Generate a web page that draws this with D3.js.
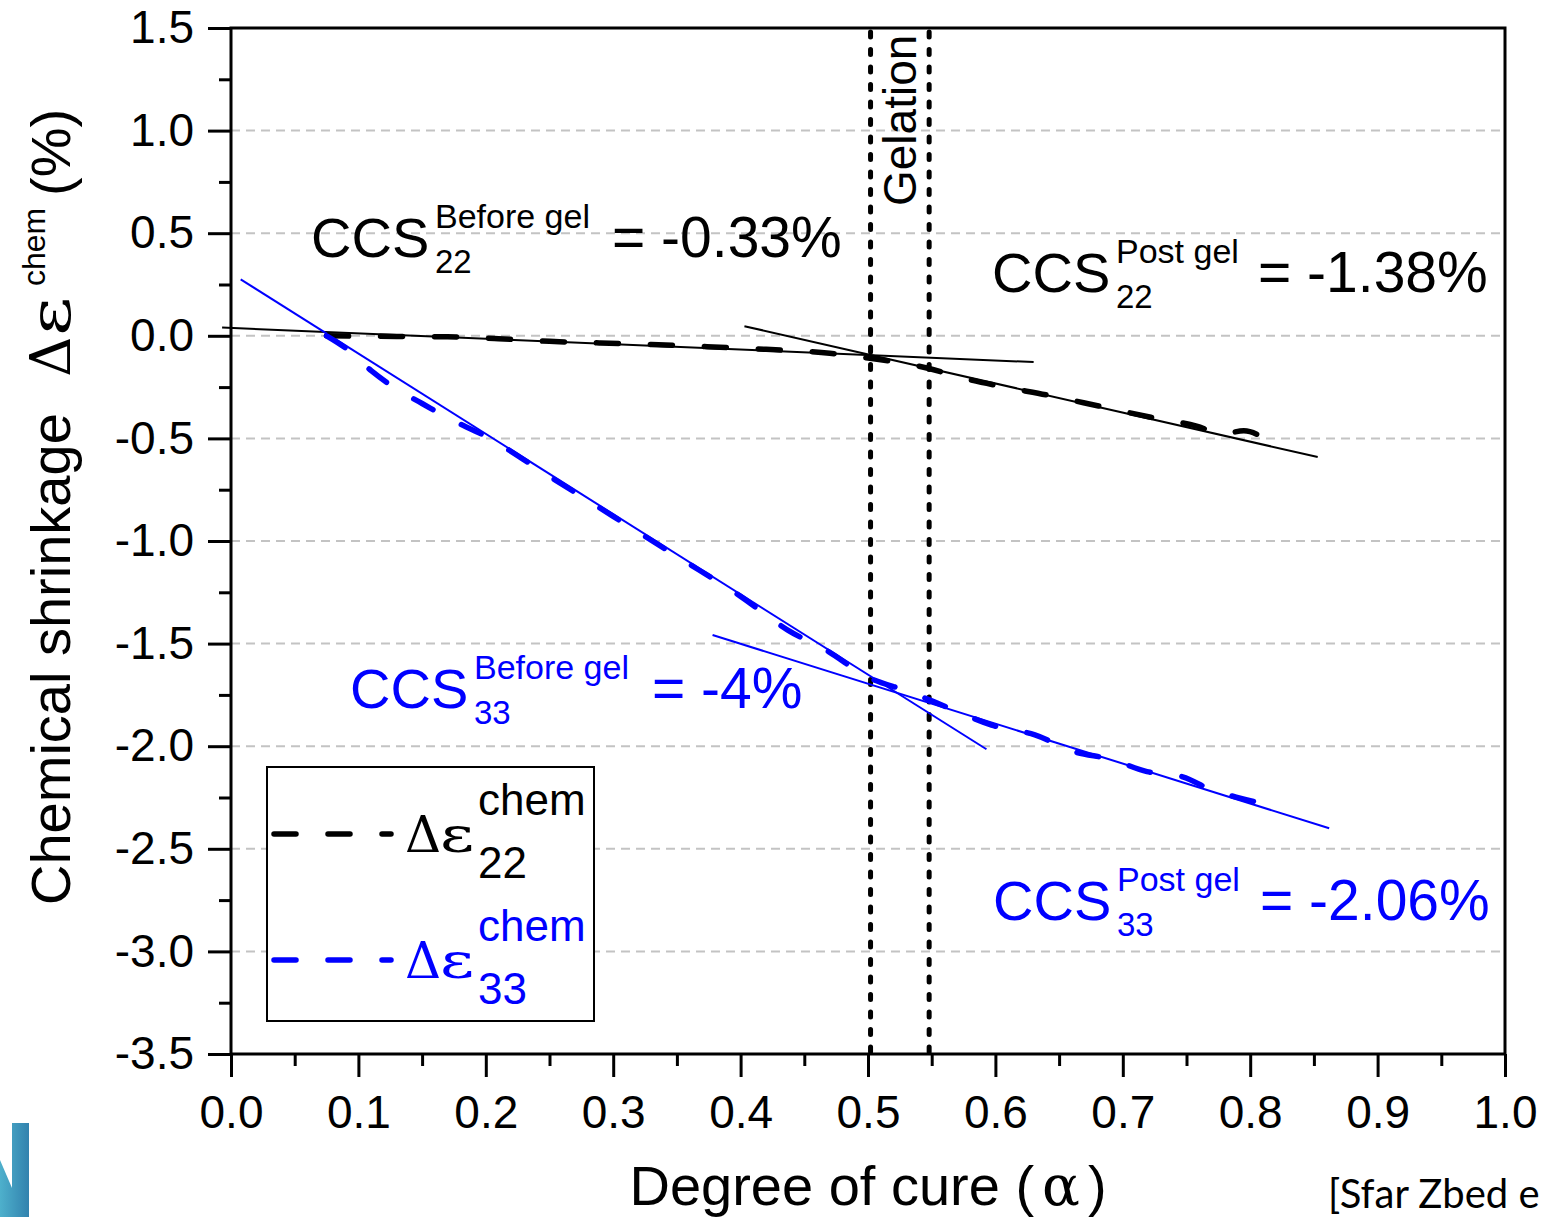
<!DOCTYPE html>
<html>
<head>
<meta charset="utf-8">
<script src="https://cdn.jsdelivr.net/npm/d3@7"></script>
<style>
  html, body { margin: 0; padding: 0; background: #fff; }
  svg { display: block; }
</style>
</head>
<body>
<svg id="chart" width="1550" height="1217"></svg>
<script>
// ---------------- data ----------------
const xTickValues = [0, 0.1, 0.2, 0.3, 0.4, 0.5, 0.6, 0.7, 0.8, 0.9, 1.0];
const yTickValues = [1.5, 1.0, 0.5, 0.0, -0.5, -1.0, -1.5, -2.0, -2.5, -3.0, -3.5];
const gridValues  = [1.0, 0.5, 0.0, -0.5, -1.0, -1.5, -2.0, -2.5, -3.0];

// Δε22 chem (black dashed)
const alpha22 = [0.075, 0.10, 0.13, 0.17, 0.21, 0.25, 0.29, 0.33, 0.37, 0.42, 0.47, 0.50, 0.547, 0.577, 0.608, 0.64, 0.681, 0.722, 0.758, 0.778, 0.795, 0.815];
const eps22   = [0.0, -0.002, -0.003, -0.005, -0.014, -0.027, -0.035, -0.042, -0.052, -0.066, -0.085, -0.108, -0.158, -0.21, -0.251, -0.288, -0.342, -0.397, -0.44, -0.478, -0.463, -0.516];

// Δε33 chem (blue dashed)
const alpha33 = [0.075, 0.09, 0.11, 0.13, 0.15, 0.17, 0.20, 0.25, 0.30, 0.35, 0.40, 0.437, 0.469, 0.499, 0.532, 0.564, 0.597, 0.631, 0.662, 0.69, 0.719, 0.747, 0.771, 0.789, 0.815];
const eps33   = [0.0, -0.06, -0.17, -0.26, -0.33, -0.40, -0.49, -0.685, -0.88, -1.075, -1.27, -1.434, -1.539, -1.661, -1.734, -1.815, -1.897, -1.945, -2.027, -2.063, -2.124, -2.149, -2.217, -2.248, -2.287];

// fitted straight lines (endpoints)
const fit22Before = [[-0.007, 0.040], [0.630, -0.128]];
const fit22Post   = [[0.403, 0.047], [0.853, -0.591]];
const fit33Before = [[0.0076, 0.275], [0.593, -2.015]];
const fit33Post   = [[0.378, -1.458], [0.862, -2.400]];

// gelation interval
const gelation = [0.502, 0.548];

// text
const xTitle = "Degree of cure (";
const yTitle = "Chemical shrinkage";
const ccsValues = ["= -0.33%", "= -1.38%", "= -4%", "= -2.06%"];
const citation = "[Sfar Zbed e";

// ---------------- drawing ----------------
const svg = d3.select("#chart");
const SANS = "'Liberation Sans', Arial, sans-serif";
const SERIF = "'DejaVu Serif', serif";
const L = 231, R = 1505, T = 28, B = 1054;

const x = d3.scaleLinear().domain([0, 1]).range([L, R]);
const y = d3.scaleLinear().domain([-3.5, 1.5]).range([B, T]);

// grid
svg.append("g").selectAll("line").data(gridValues).join("line")
  .attr("x1", L).attr("x2", R)
  .attr("y1", d => y(d)).attr("y2", d => y(d))
  .attr("stroke", "#c3c3c3").attr("stroke-width", 2)
  .attr("stroke-dasharray", "9,6");

// axes
const xMinor = d3.range(0, 21).map(i => i * 0.05).filter((d, i) => i % 2 === 1);
const yMinor = d3.range(0, 21).map(i => -3.5 + i * 0.25).filter((d, i) => i % 2 === 1);

function styleAxis(g) {
  g.select(".domain").remove();
  g.selectAll(".tick line").attr("stroke", "#000").attr("stroke-width", 3);
  g.selectAll(".tick text").attr("fill", "#000").attr("font-family", SANS).attr("font-size", 46);
}

svg.append("g").attr("transform", `translate(0,${B})`)
  .call(d3.axisBottom(x).tickValues(xMinor).tickSize(12).tickFormat(""))
  .call(styleAxis);
svg.append("g").attr("transform", `translate(0,${B})`)
  .call(d3.axisBottom(x).tickValues(xTickValues).tickSize(23).tickPadding(18).tickFormat(d3.format(".1f")))
  .call(styleAxis);
svg.append("g").attr("transform", `translate(${L},0)`)
  .call(d3.axisLeft(y).tickValues(yMinor).tickSize(12).tickFormat(""))
  .call(styleAxis);
svg.append("g").attr("transform", `translate(${L},0)`)
  .call(d3.axisLeft(y).tickValues(yTickValues).tickSize(23).tickPadding(14).tickFormat(d => d3.format(".1f")(d).replace("−", "-")))
  .call(styleAxis);

// frame
svg.append("rect").attr("x", L).attr("y", T).attr("width", R - L).attr("height", B - T)
  .attr("fill", "none").attr("stroke", "#000").attr("stroke-width", 3);

// gelation lines
svg.append("g").selectAll("line").data(gelation).join("line")
  .attr("x1", d => x(d)).attr("x2", d => x(d))
  .attr("y1", T + 4).attr("y2", B - 2)
  .attr("stroke", "#000").attr("stroke-width", 5)
  .attr("stroke-linecap", "round").attr("stroke-dasharray", "5,12.5");

svg.append("text")
  .attr("transform", `translate(${(x(gelation[0]) + x(gelation[1])) / 2 + 16},${T + 178}) rotate(-90)`)
  .attr("font-family", SANS).attr("font-size", 46).attr("fill", "#000")
  .text("Gelation");

// fitted lines
const line = d3.line().x(d => x(d[0])).y(d => y(d[1]));
[[fit22Before, "#000"], [fit22Post, "#000"], [fit33Before, "#0000ff"], [fit33Post, "#0000ff"]].forEach(([pts, c]) => {
  svg.append("path").attr("d", line(pts)).attr("fill", "none").attr("stroke", c).attr("stroke-width", 2);
});

// dashed curves
const curve = d3.line().x(d => x(d[0])).y(d => y(d[1])).curve(d3.curveMonotoneX);
svg.append("path").attr("d", curve(d3.zip(alpha22, eps22)))
  .attr("fill", "none").attr("stroke", "#000").attr("stroke-width", 5.5)
  .attr("stroke-linecap", "round").attr("stroke-dasharray", "22,32");
svg.append("path").attr("d", curve(d3.zip(alpha33, eps33)))
  .attr("fill", "none").attr("stroke", "#0000ff").attr("stroke-width", 5.5)
  .attr("stroke-linecap", "round").attr("stroke-dasharray", "22,32");

// CCS annotations
function ccs(xc, yb, sup, sub, color) {
  const g = svg.append("g").attr("fill", color).attr("font-family", SANS);
  g.append("text").attr("x", xc).attr("y", yb).attr("font-size", 56).text("CCS");
  const sx = xc + 124;
  g.append("text").attr("x", sx).attr("y", yb - 29).attr("font-size", 34).text(sup);
  g.append("text").attr("x", sx).attr("y", yb + 16).attr("font-size", 33).text(sub);
  return g;
}
ccs(311, 257, "Before gel", "22", "#000")
  .append("text").attr("x", 612).attr("y", 257).attr("font-size", 57).text(ccsValues[0]);
ccs(992, 292, "Post gel", "22", "#000")
  .append("text").attr("x", 1258).attr("y", 292).attr("font-size", 57).text(ccsValues[1]);
ccs(350, 708, "Before gel", "33", "#0000ff")
  .append("text").attr("x", 652).attr("y", 708).attr("font-size", 57).text(ccsValues[2]);
ccs(993, 920, "Post gel", "33", "#0000ff")
  .append("text").attr("x", 1260).attr("y", 920).attr("font-size", 57).text(ccsValues[3]);

// legend
svg.append("rect").attr("x", 267).attr("y", 767).attr("width", 327).attr("height", 254)
  .attr("fill", "#fff").attr("stroke", "#000").attr("stroke-width", 2);
[["#000", 834, "22"], ["#0000ff", 960, "33"]].forEach(([c, ly, sub]) => {
  svg.append("line").attr("x1", 274).attr("x2", 391).attr("y1", ly).attr("y2", ly)
    .attr("stroke", c).attr("stroke-width", 5.5).attr("stroke-linecap", "round")
    .attr("stroke-dasharray", "22,32");
  svg.append("text").attr("x", 405).attr("y", ly + 18).attr("font-family", SERIF)
    .attr("font-size", 50).attr("fill", c).text("Δ");
  svg.append("text").attr("transform", `translate(440,${ly + 18}) scale(1.32,1)`)
    .attr("font-family", SERIF).attr("font-size", 50).attr("fill", c).text("ε");
  svg.append("text").attr("x", 478).attr("y", ly - 19).attr("font-family", SANS)
    .attr("font-size", 44).attr("fill", c).text("chem");
  svg.append("text").attr("x", 478).attr("y", ly + 44).attr("font-family", SANS)
    .attr("font-size", 44).attr("fill", c).text(sub);
});

// x title
const xt = svg.append("text").attr("x", (L + R) / 2).attr("y", 1205)
  .attr("text-anchor", "middle").attr("font-family", SANS).attr("font-size", 56).attr("fill", "#000");
xt.append("tspan").text(xTitle);
xt.append("tspan").attr("font-family", SERIF).attr("dx", 8).text("α");
xt.append("tspan").attr("dx", 8).text(")");

// y title (rotated pieces)
const yBase = 70;
svg.append("text").attr("transform", `translate(${yBase},905) rotate(-90)`)
  .attr("font-family", SANS).attr("font-size", 56).attr("fill", "#000").text(yTitle);
svg.append("text").attr("transform", `translate(${yBase},377) rotate(-90)`)
  .attr("font-family", SERIF).attr("font-size", 56).attr("fill", "#000").text("Δ");
svg.append("text").attr("transform", `translate(${yBase},336) rotate(-90) scale(1.35,1)`)
  .attr("font-family", SERIF).attr("font-size", 56).attr("fill", "#000").text("ε");
svg.append("text").attr("transform", `translate(${yBase - 25},286) rotate(-90)`)
  .attr("font-family", SANS).attr("font-size", 32).attr("fill", "#000").text("chem");
svg.append("text").attr("transform", `translate(${yBase},196) rotate(-90)`)
  .attr("font-family", SANS).attr("font-size", 56).attr("fill", "#000").text("(%)");

// partial logo at bottom-left
const defs = svg.append("defs");
const grad = defs.append("linearGradient").attr("id", "logoGrad").attr("x1", "0").attr("x2", "1");
grad.append("stop").attr("offset", "0").attr("stop-color", "#4eb0cc");
grad.append("stop").attr("offset", "1").attr("stop-color", "#3282ae");
svg.append("path").attr("d", "M12,1123 L29,1123 L29,1217 L12,1217 Z M0,1160 L12,1188 L12,1217 L0,1217 Z")
  .attr("fill", "url(#logoGrad)");

// citation (as visible in the original, kept fully inside the frame)
svg.append("text").attr("x", 1328).attr("y", 1208).attr("font-family", "Lato, 'Open Sans', sans-serif")
  .attr("font-size", 40).attr("fill", "#000").text(citation);
</script>
</body>
</html>
